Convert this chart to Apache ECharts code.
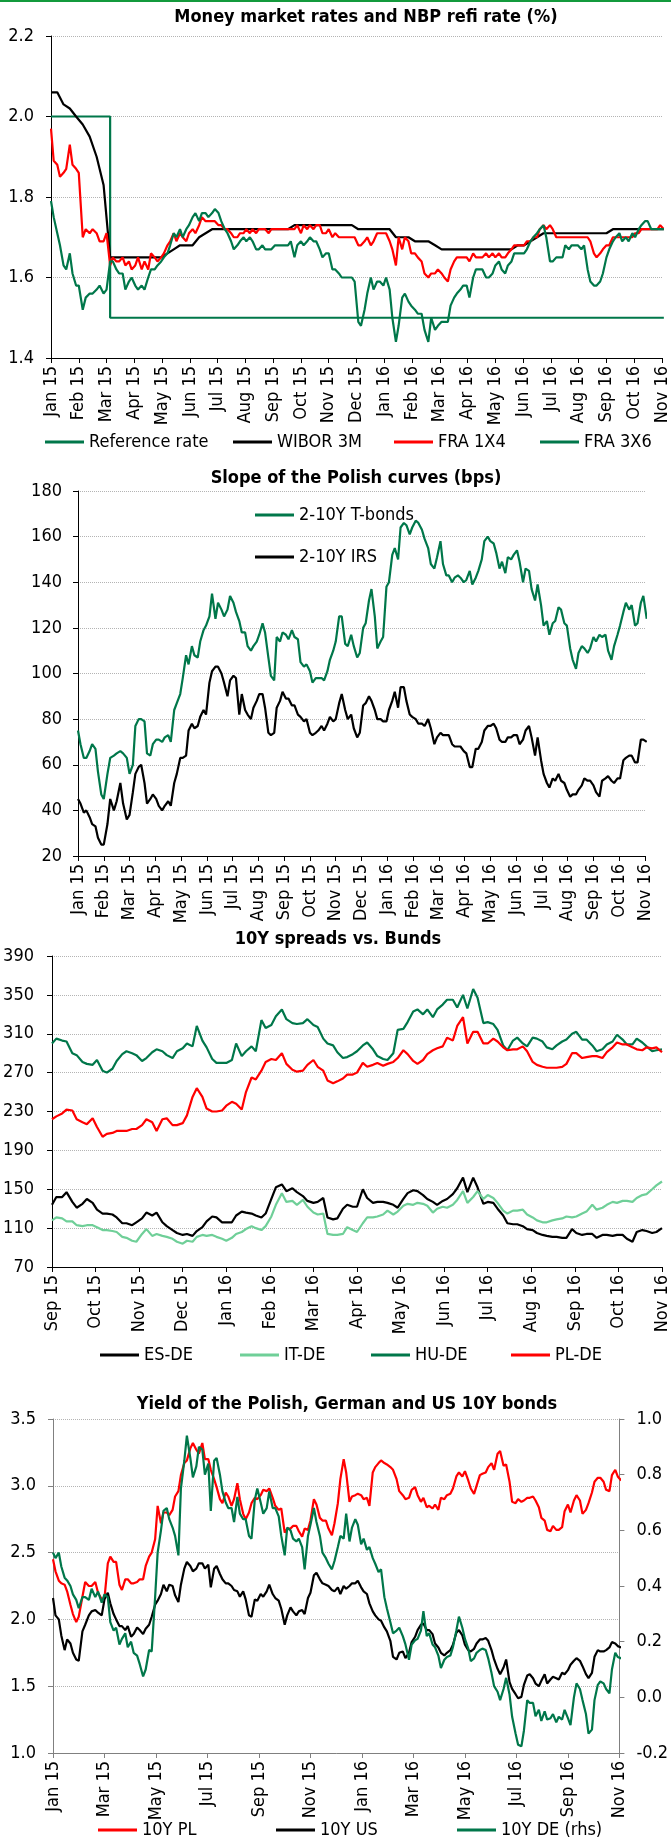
<!DOCTYPE html>
<html>
<head>
<meta charset="utf-8">
<script src="https://cdn.jsdelivr.net/npm/echarts@6/dist/echarts.min.js"></script>
<style>
  html, body { margin: 0; padding: 0; background: #fff; }
  #chart { width: 671px; height: 1841px; }
</style>
</head>
<body>
<div id="chart"></div>
<script>
var monthNames = ['Jan', 'Feb', 'Mar', 'Apr', 'May', 'Jun', 'Jul', 'Aug', 'Sep', 'Oct', 'Nov', 'Dec']

// Money market rates and NBP refi rate (%)
var refDates = ['2015-01-01', '2015-03-05', '2016-11-03']
var refRate = [2.0, 1.5, 1.5]
// weekly from 1 Jan 2015
var wibor3m = [
  2.06, 2.06, 2.03, 2.02, 2.00, 1.98, 1.95, 1.90, 1.83, 1.65,
  1.65, 1.65, 1.65, 1.65, 1.65, 1.65, 1.65, 1.65, 1.66, 1.67,
  1.68, 1.68, 1.68, 1.70, 1.71, 1.72, 1.72, 1.72, 1.72, 1.72,
  1.72, 1.72, 1.72, 1.72, 1.72, 1.72, 1.72, 1.72, 1.73, 1.73,
  1.73, 1.73, 1.73, 1.73, 1.73, 1.73, 1.73, 1.73, 1.72, 1.72,
  1.72, 1.72, 1.72, 1.72, 1.70, 1.70, 1.70, 1.69, 1.69, 1.69,
  1.68, 1.67, 1.67, 1.67, 1.67, 1.67, 1.67, 1.67, 1.67, 1.67,
  1.67, 1.67, 1.67, 1.68, 1.68, 1.69, 1.70, 1.71, 1.71, 1.71,
  1.71, 1.71, 1.71, 1.71, 1.71, 1.71, 1.71, 1.71, 1.72, 1.72,
  1.72, 1.72, 1.72, 1.72, 1.72, 1.72, 1.72
]
// twice a week from 1 Jan 2015
var fra1x4 = [
  1.97, 1.89, 1.88, 1.85, 1.86, 1.87, 1.93, 1.88, 1.87, 1.86,
  1.70, 1.72, 1.71, 1.72, 1.71, 1.69, 1.69, 1.71, 1.63, 1.65,
  1.64, 1.64, 1.65, 1.63, 1.64, 1.62, 1.63, 1.65, 1.62, 1.64,
  1.62, 1.66, 1.65, 1.64, 1.65, 1.66, 1.68, 1.69, 1.71, 1.69,
  1.71, 1.70, 1.69, 1.71, 1.72, 1.71, 1.73, 1.75, 1.74, 1.74,
  1.74, 1.74, 1.73, 1.73, 1.72, 1.72, 1.71, 1.70, 1.70, 1.71,
  1.71, 1.72, 1.71, 1.72, 1.71, 1.72, 1.72, 1.72, 1.71, 1.72,
  1.72, 1.72, 1.72, 1.72, 1.72, 1.72, 1.72, 1.73, 1.71, 1.73,
  1.72, 1.73, 1.72, 1.73, 1.73, 1.71, 1.71, 1.72, 1.70, 1.71,
  1.70, 1.70, 1.70, 1.70, 1.70, 1.70, 1.68, 1.68, 1.69, 1.70,
  1.68, 1.69, 1.71, 1.71, 1.71, 1.71, 1.69, 1.67, 1.63, 1.70,
  1.67, 1.70, 1.69, 1.66, 1.66, 1.65, 1.64, 1.61, 1.60, 1.61,
  1.61, 1.62, 1.61, 1.60, 1.59, 1.62, 1.64, 1.65, 1.65, 1.65,
  1.65, 1.64, 1.66, 1.65, 1.65, 1.65, 1.66, 1.65, 1.66, 1.65,
  1.66, 1.65, 1.65, 1.66, 1.67, 1.68, 1.68, 1.68, 1.68, 1.69,
  1.69, 1.70, 1.70, 1.72, 1.73, 1.72, 1.73, 1.72, 1.70, 1.70,
  1.70, 1.70, 1.70, 1.70, 1.70, 1.70, 1.70, 1.70, 1.70, 1.69,
  1.66, 1.65, 1.66, 1.67, 1.68, 1.68, 1.70, 1.70, 1.70, 1.70,
  1.70, 1.70, 1.70, 1.71, 1.71, 1.72, 1.72, 1.72, 1.72, 1.72,
  1.72, 1.73, 1.72
]
var fra3x6 = [
  1.79, 1.75, 1.71, 1.68, 1.63, 1.62, 1.66, 1.61, 1.58, 1.58,
  1.52, 1.55, 1.56, 1.56, 1.57, 1.58, 1.56, 1.57, 1.64, 1.64,
  1.62, 1.61, 1.61, 1.57, 1.59, 1.60, 1.58, 1.57, 1.58, 1.57,
  1.60, 1.62, 1.62, 1.63, 1.64, 1.65, 1.66, 1.68, 1.71, 1.70,
  1.72, 1.70, 1.72, 1.73, 1.75, 1.76, 1.74, 1.76, 1.76, 1.75,
  1.76, 1.77, 1.76, 1.74, 1.72, 1.71, 1.69, 1.67, 1.68, 1.69,
  1.70, 1.69, 1.70, 1.69, 1.67, 1.67, 1.68, 1.67, 1.67, 1.67,
  1.68, 1.68, 1.68, 1.68, 1.68, 1.69, 1.65, 1.68, 1.69, 1.68,
  1.69, 1.70, 1.69, 1.69, 1.67, 1.65, 1.66, 1.66, 1.62, 1.62,
  1.61, 1.60, 1.60, 1.60, 1.60, 1.59, 1.49, 1.48, 1.52, 1.56,
  1.60, 1.57, 1.59, 1.59, 1.58, 1.60, 1.57, 1.50, 1.44, 1.48,
  1.55, 1.56, 1.54, 1.53, 1.52, 1.51, 1.51, 1.47, 1.44, 1.50,
  1.47, 1.48, 1.49, 1.49, 1.49, 1.53, 1.55, 1.56, 1.57, 1.58,
  1.58, 1.55, 1.60, 1.62, 1.62, 1.62, 1.60, 1.60, 1.61, 1.63,
  1.64, 1.62, 1.61, 1.63, 1.64, 1.66, 1.66, 1.66, 1.66, 1.67,
  1.69, 1.70, 1.71, 1.72, 1.73, 1.70, 1.64, 1.64, 1.65, 1.65,
  1.65, 1.68, 1.67, 1.68, 1.68, 1.68, 1.67, 1.68, 1.62, 1.59,
  1.58, 1.58, 1.59, 1.61, 1.65, 1.67, 1.69, 1.70, 1.71, 1.69,
  1.70, 1.69, 1.71, 1.70, 1.72, 1.73, 1.74, 1.74, 1.72, 1.72,
  1.72, 1.72, 1.72
]

// Slope of the Polish curves (bps) - twice a week from 1 Jan 2015
var slopeTbonds = [
  75, 69, 63, 63, 66, 69, 67, 57, 47, 45,
  56, 63, 64, 65, 66, 65, 63, 56, 60, 77,
  80, 80, 79, 65, 64, 69, 71, 71, 70, 72,
  73, 70, 84, 87, 91, 98, 108, 104, 112, 108,
  107, 114, 119, 121, 125, 135, 124, 131, 128, 125,
  128, 134, 131, 127, 123, 118, 118, 112, 110, 112,
  114, 117, 122, 118, 107, 99, 97, 116, 114, 118,
  117, 115, 119, 116, 115, 105, 103, 104, 101, 96,
  98, 98, 98, 97, 101, 106, 110, 114, 125, 125,
  113, 112, 117, 112, 107, 109, 120, 122, 132, 137,
  125, 111, 114, 116, 138, 140, 152, 155, 150, 164,
  166, 165, 161, 164, 167, 166, 163, 159, 155, 148,
  146, 151, 158, 148, 143, 143, 140, 142, 143, 142,
  140, 141, 145, 139, 142, 145, 150, 158, 160, 158,
  157, 153, 146, 149, 144, 151, 150, 152, 154, 149,
  140, 146, 145, 137, 132, 139, 130, 121, 123, 117,
  122, 123, 129, 128, 122, 121, 111, 106, 102, 109,
  112, 111, 109, 111, 116, 114, 117, 116, 117, 110,
  106, 112, 117, 121, 127, 131, 128, 130, 121, 122,
  131, 134, 124
]
var slopeIrs = [
  45, 43, 39, 40, 37, 34, 33, 28, 25, 25,
  34, 45, 40, 44, 52, 43, 36, 38, 48, 56,
  59, 60, 52, 43, 45, 47, 45, 42, 40, 42,
  44, 42, 52, 56, 63, 63, 64, 75, 78, 76,
  77, 81, 84, 82, 96, 101, 103, 103, 100, 96,
  90, 97, 99, 98, 82, 91, 84, 82, 80, 85,
  88, 91, 91, 85, 74, 73, 74, 85, 88, 92,
  89, 89, 86, 86, 82, 81, 79, 80, 74, 73,
  74, 75, 77, 75, 78, 81, 79, 80, 87, 91,
  84, 80, 82, 76, 72, 74, 86, 87, 90, 88,
  84, 80, 80, 79, 79, 84, 88, 92, 85, 94,
  94, 88, 82, 81, 80, 78, 78, 77, 80, 76,
  69, 72, 74, 73, 73, 73, 69, 68, 68, 68,
  66, 65, 59, 59, 67, 67, 70, 75, 77, 77,
  78, 76, 71, 70, 70, 72, 72, 73, 73, 69,
  71, 75, 77, 72, 64, 72, 62, 56, 52, 50,
  54, 53, 56, 53, 52, 49, 46, 47, 47, 49,
  51, 54, 53, 53, 51, 48, 46, 53, 54, 55,
  53, 52, 54, 54, 62, 63, 64, 64, 61, 61,
  71, 71, 70
]

// 10Y spreads vs. Bunds - twice a week from 1 Sep 2015
var esDe = [
  134, 142, 142, 147, 137, 131, 135, 140, 136, 129,
  125, 125, 124, 121, 115, 115, 113, 116, 120, 126,
  123, 126, 116, 112, 108, 105, 103, 104, 102, 107,
  111, 117, 122, 121, 116, 116, 116, 123, 127, 126,
  125, 123, 121, 125, 140, 152, 155, 148, 151, 147,
  143, 138, 136, 137, 141, 121, 119, 120, 130, 134,
  132, 132, 150, 141, 136, 137, 137, 136, 134, 131,
  140, 146, 149, 148, 144, 140, 137, 134, 138, 140,
  145, 151, 162, 147, 162, 152, 135, 137, 136, 130,
  123, 115, 114, 114, 112, 109, 108, 105, 103, 102,
  101, 101, 100, 100, 109, 105, 103, 104, 104, 100,
  103, 103, 102, 103, 103, 99, 96, 106, 108, 107,
  105, 106, 110
]
var itDe = [
  118, 121, 120, 117, 117, 113, 112, 113, 113, 111,
  108, 108, 107, 106, 101, 100, 97, 96, 104, 109,
  102, 104, 102, 101, 99, 96, 94, 97, 96, 101,
  103, 102, 103, 101, 99, 97, 100, 104, 106, 109,
  112, 110, 108, 112, 122, 134, 146, 137, 138, 134,
  139, 132, 126, 124, 125, 104, 103, 103, 104, 111,
  108, 106, 115, 121, 121, 122, 124, 128, 124, 127,
  133, 135, 134, 136, 135, 133, 126, 130, 132, 131,
  134, 139, 148, 136, 142, 148, 140, 144, 141, 136,
  128, 125, 128, 128, 129, 124, 121, 118, 116, 116,
  118, 119, 120, 122, 121, 122, 125, 127, 134, 129,
  131, 134, 137, 136, 138, 138, 137, 141, 144, 145,
  150, 154, 158
]
var huDe = [
  300, 305, 303, 302, 290, 288, 281, 279, 278, 283,
  272, 270, 274, 282, 289, 292, 290, 288, 282, 285,
  291, 294, 292, 288, 285, 292, 295, 300, 297, 318,
  303, 296, 284, 280, 280, 280, 283, 300, 287, 292,
  297, 292, 324, 316, 319, 328, 335, 325, 321, 320,
  321, 325, 319, 317, 305, 300, 298, 291, 285, 286,
  289, 292, 298, 301, 294, 287, 284, 283, 290, 314,
  315, 322, 333, 335, 330, 335, 327, 335, 340, 345,
  345, 337, 350, 336, 356, 347, 321, 322, 320, 314,
  298, 293, 303, 306, 300, 297, 306, 305, 302, 296,
  294, 298, 302, 304, 310, 312, 304, 304, 298, 292,
  294, 299, 302, 309, 304, 299, 299, 305, 301, 297,
  292, 293, 294
]
var plDe = [
  222, 225, 228, 232, 231, 222, 219, 217, 223, 214,
  204, 207, 208, 210, 210, 210, 212, 212, 216, 222,
  219, 210, 222, 223, 216, 216, 218, 226, 245, 254,
  245, 233, 230, 230, 231, 236, 240, 238, 232, 250,
  265, 263, 272, 281, 284, 283, 290, 279, 273, 271,
  272, 278, 283, 276, 272, 262, 259, 261, 264, 268,
  268, 270, 280, 276, 278, 280, 277, 279, 281, 285,
  293, 289, 282, 279, 283, 289, 293, 295, 297, 306,
  303, 318, 327, 300, 312, 312, 300, 300, 305, 302,
  296, 293, 294, 294, 297, 292, 281, 278, 276, 275,
  275, 275, 276, 279, 290, 290, 285, 286, 287, 287,
  285, 291, 296, 301, 299, 299, 296, 294, 293, 296,
  295, 296, 291
]

// Yield of the Polish, German and US 10Y bonds - twice a week from 1 Jan 2015
var y10Pl = [
  2.45, 2.36, 2.29, 2.27, 2.26, 2.21, 2.11, 2.04, 1.98, 2.02,
  2.17, 2.28, 2.25, 2.25, 2.28, 2.20, 2.15, 2.16, 2.42, 2.47,
  2.43, 2.43, 2.26, 2.22, 2.30, 2.30, 2.27, 2.27, 2.28, 2.30,
  2.30, 2.40, 2.47, 2.50, 2.60, 2.85, 2.72, 2.80, 2.80, 2.78,
  2.82, 2.92, 2.96, 3.08, 3.17, 3.19, 3.28, 3.32, 3.27, 3.24,
  3.32, 3.20, 3.20, 3.12, 3.05, 2.99, 2.90, 2.87, 2.95, 2.92,
  2.85, 2.90, 3.02, 2.90, 2.79, 2.75, 2.80, 2.87, 2.91, 2.90,
  2.93, 2.97, 2.96, 2.98, 2.91, 2.85, 2.82, 2.83, 2.65, 2.68,
  2.68, 2.70, 2.70, 2.66, 2.62, 2.68, 2.67, 2.74, 2.90, 2.86,
  2.76, 2.74, 2.74, 2.68, 2.63, 2.72, 2.87, 3.05, 3.20, 3.10,
  2.88, 2.92, 2.93, 2.94, 2.93, 2.90, 2.91, 2.85, 3.10, 3.14,
  3.17, 3.19, 3.17, 3.16, 3.14, 3.12, 3.05, 2.96, 2.93, 2.90,
  2.91, 2.97, 2.99, 2.93, 2.88, 2.91, 2.84, 2.85, 2.83, 2.86,
  2.82, 2.91, 2.90, 2.93, 2.94, 2.98, 3.07, 3.10, 3.07, 3.11,
  3.04, 2.98, 2.94, 3.00, 3.08, 3.09, 3.10, 3.14, 3.17, 3.12,
  3.24, 3.26, 3.15, 3.16, 3.03, 2.88, 2.87, 2.90, 2.88, 2.89,
  2.91, 2.91, 2.92, 2.89, 2.84, 2.76, 2.74, 2.67, 2.66, 2.70,
  2.67, 2.67, 2.69, 2.81, 2.86, 2.80, 2.89, 2.93, 2.89, 2.79,
  2.82, 2.87, 2.95, 3.03, 3.06, 3.06, 3.03, 2.97, 2.96, 3.08,
  3.12, 3.07, 3.04
]
var y10Us = [
  2.16, 2.03, 2.00, 1.88, 1.77, 1.85, 1.82, 1.75, 1.70, 1.69,
  1.91, 1.96, 2.03, 2.06, 2.07, 2.05, 2.03, 2.15, 2.20, 2.12,
  2.04, 2.00, 1.95, 1.95, 1.92, 1.95, 1.87, 1.89, 1.94, 1.92,
  1.89, 1.93, 1.96, 2.02, 2.11, 2.14, 2.19, 2.26, 2.21, 2.26,
  2.25, 2.18, 2.13, 2.26, 2.38, 2.43, 2.40, 2.36, 2.38, 2.42,
  2.42, 2.38, 2.41, 2.24, 2.38, 2.40, 2.34, 2.30, 2.27, 2.27,
  2.25, 2.22, 2.21, 2.17, 2.21, 2.15, 2.03, 2.02, 2.15, 2.14,
  2.19, 2.17, 2.21, 2.26, 2.19, 2.16, 2.14, 2.08, 1.96, 2.03,
  2.09, 2.06, 2.03, 2.06, 2.07, 2.04, 2.16, 2.20, 2.33, 2.35,
  2.30, 2.27, 2.26, 2.25, 2.22, 2.21, 2.24, 2.19, 2.25, 2.23,
  2.25, 2.27, 2.27, 2.29, 2.24, 2.21, 2.19, 2.12, 2.06, 2.03,
  2.00, 1.99, 1.94, 1.91, 1.84, 1.72, 1.70, 1.75, 1.76, 1.71,
  1.75, 1.83, 1.87, 1.92, 1.96, 1.97, 1.92, 1.92, 1.89, 1.82,
  1.79, 1.75, 1.73, 1.75, 1.77, 1.81, 1.90, 1.92, 1.88, 1.81,
  1.77, 1.76, 1.78, 1.82, 1.85, 1.85, 1.86, 1.84, 1.77, 1.70,
  1.63, 1.59, 1.64, 1.70, 1.53, 1.48, 1.44, 1.41, 1.42, 1.51,
  1.58, 1.59, 1.56, 1.52, 1.50, 1.54, 1.59, 1.52, 1.55, 1.57,
  1.56, 1.55, 1.60, 1.59, 1.62, 1.66, 1.69, 1.71, 1.69, 1.65,
  1.59, 1.56, 1.60, 1.72, 1.77, 1.76, 1.76, 1.77, 1.79, 1.83,
  1.82, 1.80, 1.79
]
var y10De = [
  0.52, 0.50, 0.52, 0.47, 0.43, 0.42, 0.40, 0.37, 0.35, 0.32,
  0.36, 0.36, 0.35, 0.39, 0.36, 0.38, 0.34, 0.37, 0.36, 0.27,
  0.24, 0.25, 0.19, 0.21, 0.23, 0.18, 0.20, 0.16, 0.15, 0.12,
  0.075, 0.10, 0.17, 0.165, 0.36, 0.52, 0.60, 0.67, 0.68, 0.64,
  0.61, 0.58, 0.51, 0.75, 0.85, 0.94, 0.86, 0.79, 0.83, 0.90,
  0.89, 0.80, 0.84, 0.67, 0.85, 0.86, 0.80, 0.74, 0.70, 0.68,
  0.68, 0.63, 0.72, 0.66, 0.64, 0.64, 0.58, 0.57, 0.71, 0.75,
  0.70, 0.66, 0.68, 0.74, 0.68, 0.68, 0.65, 0.58, 0.51, 0.61,
  0.60, 0.57, 0.56, 0.57, 0.54, 0.46, 0.58, 0.62, 0.68, 0.63,
  0.58, 0.52, 0.50, 0.48, 0.46, 0.49, 0.54, 0.58, 0.57, 0.66,
  0.56, 0.61, 0.64, 0.62, 0.55, 0.57, 0.53, 0.54, 0.50, 0.48,
  0.45, 0.46, 0.36, 0.32, 0.27, 0.23, 0.24, 0.25, 0.22, 0.19,
  0.135, 0.19, 0.205, 0.21, 0.24, 0.31, 0.22, 0.23, 0.19, 0.18,
  0.15, 0.105, 0.135, 0.145, 0.15, 0.18, 0.24, 0.29, 0.25, 0.21,
  0.175, 0.13, 0.14, 0.16, 0.17, 0.175, 0.17, 0.14, 0.087, 0.04,
  0.02, -0.01, 0.03, 0.07, 0.01, -0.07, -0.13, -0.17, -0.176, -0.12,
  -0.01, -0.02, -0.02, -0.068, -0.045, -0.085, -0.05, -0.08, -0.075, -0.06,
  -0.09, -0.07, -0.08, -0.045, -0.075, -0.10, 0.00, 0.05, 0.03, -0.01,
  -0.06, -0.13, -0.116, -0.01, 0.045, 0.057, 0.05, 0.03, 0.014, 0.10,
  0.16, 0.145, 0.14
]

var FONT = "'Liberation Sans Narrow', 'Arial Narrow', 'DejaVu Sans Condensed', sans-serif"
var FS = 18
var DARK_GREEN = '#00774a'
var LIGHT_GREEN = '#6fcf98'
var RED = '#ff0000'
var DAY = 86400000

// position of a date in months from the axis start (year, month)
function monthPos(d, baseY, baseM) {
  var y = d.getUTCFullYear()
  var m = d.getUTCMonth()
  var dim = new Date(Date.UTC(y, m + 1, 0)).getUTCDate()
  return (y - baseY) * 12 + (m - baseM) + (d.getUTCDate() - 1) / dim
}

// values sampled every `stepDays` days from `startIso`
function sampled(values, startIso, stepDays, baseY, baseM) {
  var t0 = Date.parse(startIso + 'T00:00:00Z')
  return values.map(function(v, i) {
    return [monthPos(new Date(t0 + i * stepDays * DAY), baseY, baseM), v]
  })
}

function dated(dates, values, baseY, baseM) {
  return dates.map(function(s, i) {
    return [monthPos(new Date(s + 'T00:00:00Z'), baseY, baseM), values[i]]
  })
}

function monthAxis(gridIndex, max, step, baseY, baseM, axisColor) {
  return {
    type: 'value',
    gridIndex: gridIndex,
    min: 0,
    max: max,
    interval: step,
    axisLine: { show: true, onZero: false, lineStyle: { color: axisColor, width: 1 } },
    axisTick: { show: true, length: 5, lineStyle: { color: axisColor } },
    splitLine: { show: false },
    axisLabel: {
      rotate: 90,
      margin: 8,
      color: '#000',
      fontSize: FS,
      fontFamily: FONT,
      formatter: function(v) {
        if (Math.abs(v - Math.round(v)) > 1e-6) return ''
        var k = baseM + Math.round(v)
        var yy = baseY + Math.floor(k / 12)
        return monthNames[k % 12] + ' ' + String(yy).slice(2)
      }
    }
  }
}

function valueAxis(gridIndex, min, max, step, decimals, opts) {
  opts = opts || {}
  return {
    type: 'value',
    gridIndex: gridIndex,
    position: opts.position || 'left',
    min: min,
    max: max,
    interval: step,
    axisLine: { show: true, lineStyle: { color: opts.color || '#000', width: 1 } },
    axisTick: { show: true, length: 5, lineStyle: { color: opts.color || '#000' } },
    splitLine: {
      show: opts.split !== false,
      lineStyle: { color: '#b4b4b4', type: 'dotted', width: 1 }
    },
    axisLabel: {
      margin: opts.margin || 17,
      color: '#000',
      fontSize: FS,
      fontFamily: FONT,
      formatter: function(v) { return v.toFixed(decimals) }
    }
  }
}

function line(name, data, color, xi, yi, step) {
  return {
    name: name,
    type: 'line',
    xAxisIndex: xi,
    yAxisIndex: yi,
    data: data,
    step: step || false,
    showSymbol: false,
    symbol: 'none',
    clip: true,
    lineStyle: { color: color, width: 2.2 },
    itemStyle: { color: color },
    emphasis: { disabled: true },
    z: 3
  }
}

// one legend per entry so each can sit where the original puts it
function legendItem(name, left, centerY) {
  return {
    data: [name],
    left: left,
    top: centerY - 9,
    padding: 0,
    icon: 'rect',
    itemWidth: 39,
    itemHeight: 3,
    itemGap: 0,
    selectedMode: false,
    textStyle: { color: '#000', fontSize: FS, fontFamily: FONT }
  }
}

function titleText(text, cx, cy) {
  return {
    type: 'text',
    style: {
      text: text,
      x: cx,
      y: cy,
      align: 'center',
      verticalAlign: 'middle',
      textAlign: 'center',
      textVerticalAlign: 'middle',
      fontSize: FS,
      fontWeight: 'bold',
      fontFamily: FONT,
      fill: '#000'
    }
  }
}

var chart = echarts.init(document.getElementById('chart'), null, { renderer: 'canvas' })

var option = {
  animation: false,
  backgroundColor: '#fff',
  graphic: [
    { type: 'rect', shape: { x: 0, y: 0, width: 671, height: 2 }, style: { fill: '#139a3c' } },
    titleText('Money market rates and NBP refi rate (%)', 366, 17),
    titleText('Slope of the Polish curves (bps)', 356, 478),
    titleText('10Y spreads vs. Bunds', 338, 939),
    titleText('Yield of the Polish, German and US 10Y bonds', 347, 1404)
  ],
  grid: [
    { left: 51, top: 36, width: 612, height: 322 },
    { left: 78, top: 491, width: 567, height: 365 },
    { left: 52, top: 956, width: 618, height: 311 },
    { left: 53, top: 1419, width: 572, height: 334 }
  ],
  xAxis: [
    monthAxis(0, 22, 1, 2015, 0, '#000'),
    monthAxis(1, 22, 1, 2015, 0, '#000'),
    monthAxis(2, 14, 1, 2015, 8, '#000'),
    monthAxis(3, 22, 2, 2015, 0, '#808080')
  ],
  yAxis: [
    valueAxis(0, 1.4, 2.2, 0.2, 1, { margin: 17 }),
    valueAxis(1, 20, 180, 20, 0, { margin: 16 }),
    valueAxis(2, 70, 390, 40, 0, { margin: 18 }),
    valueAxis(3, 1.0, 3.5, 0.5, 1, { margin: 17, color: '#808080' }),
    valueAxis(3, -0.2, 1.0, 0.2, 1, { margin: 17, color: '#808080', position: 'right', split: false })
  ],
  legend: [
    legendItem('Reference rate', 45, 442),
    legendItem('WIBOR 3M', 233, 442),
    legendItem('FRA 1X4', 394, 442),
    legendItem('FRA 3X6', 540, 442),
    legendItem('2-10Y T-bonds', 255, 515),
    legendItem('2-10Y IRS', 255, 557),
    legendItem('ES-DE', 100, 1355),
    legendItem('IT-DE', 240, 1355),
    legendItem('HU-DE', 371, 1355),
    legendItem('PL-DE', 511, 1355),
    legendItem('10Y PL', 98, 1830),
    legendItem('10Y US', 276, 1830),
    legendItem('10Y DE (rhs)', 457, 1830)
  ],
  series: [
    line('Reference rate', dated(refDates, refRate, 2015, 0), DARK_GREEN, 0, 0, 'end'),
    line('WIBOR 3M', sampled(wibor3m, '2015-01-01', 7, 2015, 0), '#000', 0, 0),
    line('FRA 1X4', sampled(fra1x4, '2015-01-01', 3.5, 2015, 0), RED, 0, 0),
    line('FRA 3X6', sampled(fra3x6, '2015-01-01', 3.5, 2015, 0), DARK_GREEN, 0, 0),

    line('2-10Y T-bonds', sampled(slopeTbonds, '2015-01-01', 3.5, 2015, 0), DARK_GREEN, 1, 1),
    line('2-10Y IRS', sampled(slopeIrs, '2015-01-01', 3.5, 2015, 0), '#000', 1, 1),

    line('ES-DE', sampled(esDe, '2015-09-01', 3.5, 2015, 8), '#000', 2, 2),
    line('IT-DE', sampled(itDe, '2015-09-01', 3.5, 2015, 8), LIGHT_GREEN, 2, 2),
    line('HU-DE', sampled(huDe, '2015-09-01', 3.5, 2015, 8), DARK_GREEN, 2, 2),
    line('PL-DE', sampled(plDe, '2015-09-01', 3.5, 2015, 8), RED, 2, 2),

    line('10Y PL', sampled(y10Pl, '2015-01-01', 3.5, 2015, 0), RED, 3, 3),
    line('10Y US', sampled(y10Us, '2015-01-01', 3.5, 2015, 0), '#000', 3, 3),
    line('10Y DE (rhs)', sampled(y10De, '2015-01-01', 3.5, 2015, 0), DARK_GREEN, 3, 4)
  ]
}

chart.setOption(option)
</script>
</body>
</html>
